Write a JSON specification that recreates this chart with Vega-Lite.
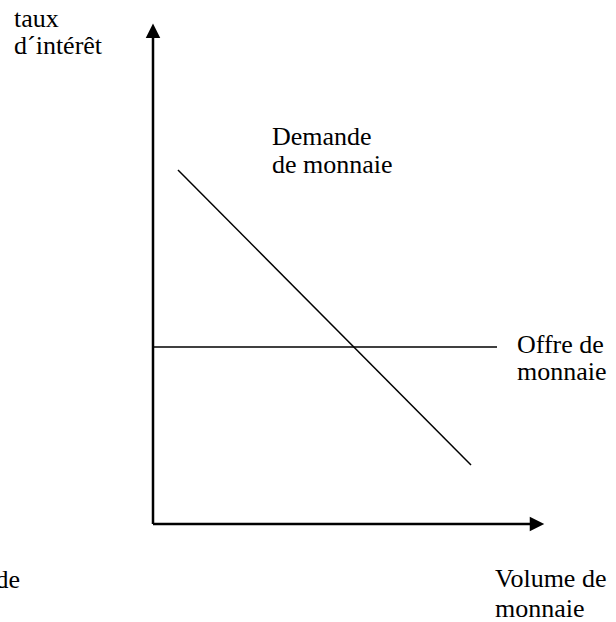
{
  "$schema": "https://vega.github.io/schema/vega-lite/v6.json",
  "width": 616,
  "height": 622,
  "padding": 0,
  "autosize": {"type": "none"},
  "background": "white",
  "config": {"view": {"stroke": null}},
  "datasets": {
    "segments": [
      {"serie": "axe_y", "x1": 0, "y1": 0, "x2": 0, "y2": 12.2},
      {"serie": "axe_x", "x1": 0, "y1": 0, "x2": 9.45, "y2": 0},
      {"serie": "demande", "x1": 0.625, "y1": 8.85, "x2": 7.95, "y2": 1.475},
      {"serie": "offre", "x1": 0, "y1": 4.425, "x2": 8.6, "y2": 4.425}
    ],
    "fleches": [
      {"sens": "haut", "x": 0, "y": 12.33},
      {"sens": "droite", "x": 9.6, "y": 0}
    ],
    "textes": [
      {"label": "taux", "x": -3.475, "y": 12.425},
      {"label": "d´intérêt", "x": -3.475, "y": 11.75},
      {"label": "Demande", "x": 2.975, "y": 9.475},
      {"label": "de monnaie", "x": 2.975, "y": 8.775},
      {"label": "Offre de", "x": 9.1, "y": 4.275},
      {"label": "monnaie", "x": 9.1, "y": 3.6},
      {"label": "Volume de", "x": 8.55, "y": -1.575},
      {"label": "monnaie", "x": 8.55, "y": -2.325}
    ],
    "coupe": [
      {"label": "de", "x": -3.325, "y": -1.6}
    ]
  },
  "encoding": {
    "x": {"type": "quantitative", "scale": {"domain": [-3.825, 11.575], "nice": false, "zero": false}, "axis": null},
    "y": {"type": "quantitative", "scale": {"domain": [-2.45, 13.1], "nice": false, "zero": false}, "axis": null}
  },
  "layer": [
    {
      "data": {"name": "segments"},
      "transform": [{"filter": "datum.serie === 'axe_x' || datum.serie === 'axe_y'"}],
      "mark": {"type": "rule", "color": "black", "strokeWidth": 2.5},
      "encoding": {
        "x": {"field": "x1", "type": "quantitative"},
        "y": {"field": "y1", "type": "quantitative"},
        "x2": {"field": "x2"},
        "y2": {"field": "y2"}
      }
    },
    {
      "data": {"name": "segments"},
      "transform": [{"filter": "datum.serie === 'demande' || datum.serie === 'offre'"}],
      "mark": {"type": "rule", "color": "black", "strokeWidth": 1.5},
      "encoding": {
        "x": {"field": "x1", "type": "quantitative"},
        "y": {"field": "y1", "type": "quantitative"},
        "x2": {"field": "x2"},
        "y2": {"field": "y2"}
      }
    },
    {
      "data": {"name": "fleches"},
      "mark": {"type": "point", "filled": true, "color": "black", "opacity": 1, "size": 210, "strokeWidth": 0},
      "encoding": {
        "x": {"field": "x", "type": "quantitative"},
        "y": {"field": "y", "type": "quantitative"},
        "shape": {
          "field": "sens",
          "type": "nominal",
          "scale": {"domain": ["haut", "droite"], "range": ["M0,-1L1,1L-1,1Z", "M1,0L-1,-1L-1,1Z"]},
          "legend": null
        }
      }
    },
    {
      "data": {"name": "textes"},
      "mark": {"type": "text", "align": "left", "baseline": "alphabetic", "font": "Liberation Serif", "fontSize": 26, "color": "black"},
      "encoding": {
        "x": {"field": "x", "type": "quantitative"},
        "y": {"field": "y", "type": "quantitative"},
        "text": {"field": "label"}
      }
    },
    {
      "data": {"name": "coupe"},
      "mark": {"type": "text", "align": "right", "baseline": "alphabetic", "font": "Liberation Serif", "fontSize": 26, "color": "black"},
      "encoding": {
        "x": {"field": "x", "type": "quantitative"},
        "y": {"field": "y", "type": "quantitative"},
        "text": {"field": "label"}
      }
    }
  ]
}
